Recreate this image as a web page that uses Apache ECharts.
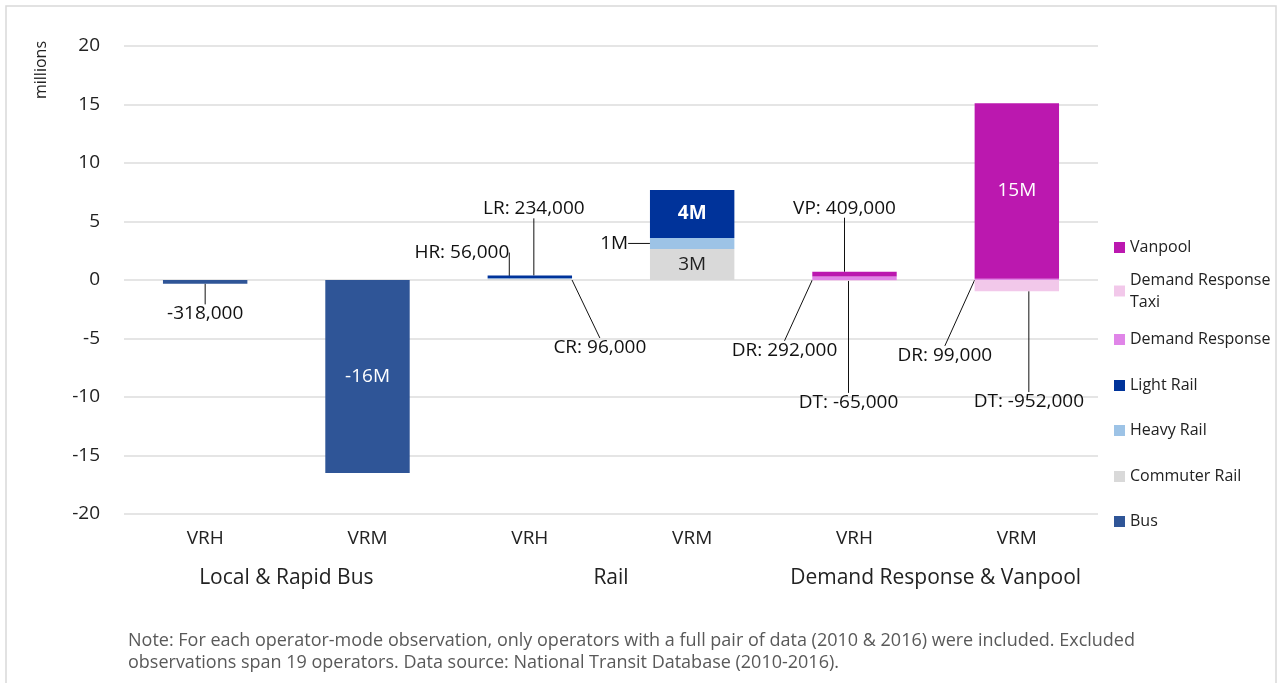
<!DOCTYPE html>
<html>
<head>
<meta charset="utf-8">
<script src="https://cdn.jsdelivr.net/npm/echarts@6/dist/echarts.min.js"></script>
<style>
	html, body { margin: 0; padding: 0; background: #fff; }
	#main { width: 1279px; height: 683px; }
</style>
</head>
<body>
<div id="main"></div>
<script>
	// categories and groups
	var categories = [ 'VRH', 'VRM', 'VRH', 'VRM', 'VRH', 'VRM' ];
	var groups = [ 'Local & Rapid Bus', 'Rail', 'Demand Response & Vanpool' ];

	// series values (millions)
	var bus = [ -0.318, -16.5, null, null, null, null ];
	var commuterRail = [ null, null, 0.096, 2.65, null, null ];
	var heavyRail = [ null, null, 0.056, 0.95, null, null ];
	var lightRail = [ null, null, 0.234, 4.1, null, null ];
	var demandResponse = [ null, null, null, null, 0.292, 0.099 ];
	var demandResponseTaxi = [ null, null, null, null, -0.065, -0.952 ];
	var vanpool = [ null, null, null, null, 0.409, 15.0 ];

	// label texts
	var busLabels = [ '-318,000', '-16M', '', '', '', '' ];
	var commuterRailLabels = [ '', '', 'CR: 96,000', '3M', '', '' ];
	var heavyRailLabels = [ '', '', 'HR: 56,000', '1M', '', '' ];
	var lightRailLabels = [ '', '', 'LR: 234,000', '4M', '', '' ];
	var demandResponseLabels = [ '', '', '', '', 'DR: 292,000', 'DR: 99,000' ];
	var demandResponseTaxiLabels = [ '', '', '', '', 'DT: -65,000', 'DT: -952,000' ];
	var vanpoolLabels = [ '', '', '', '', 'VP: 409,000', '15M' ];

	var noteText = 'Note: For each operator-mode observation, only operators with a full pair of data (2010 & 2016) were included. Excluded\n'
			+ 'observations span 19 operators. Data source: National Transit Database (2010-2016).';

	var FONT = '"Open Sans", "Noto Sans", sans-serif';

	// series definitions (stack order bottom -> top)
	var seriesDefs = [
		{ name : 'Bus', values : bus, labels : busLabels, color : '#2F5597', inside : '#ffffff' },
		{ name : 'Commuter Rail', values : commuterRail, labels : commuterRailLabels, color : '#D9D9D9', inside : '#222222' },
		{ name : 'Heavy Rail', values : heavyRail, labels : heavyRailLabels, color : '#9DC3E6', inside : '#222222' },
		{ name : 'Light Rail', values : lightRail, labels : lightRailLabels, color : '#00339A', inside : '#ffffff', bold : true },
		{ name : 'Demand Response', values : demandResponse, labels : demandResponseLabels, color : '#E085E8', inside : '#222222' },
		{ name : 'Demand Response Taxi', values : demandResponseTaxi, labels : demandResponseTaxiLabels, color : '#F2C8EA', inside : '#222222' },
		{ name : 'Vanpool', values : vanpool, labels : vanpoolLabels, color : '#BB18AF', inside : '#ffffff' }
	];

	// callout offsets from the bar segment centre (null = label stays inside)
	var labelOffsets = {
		'Bus' : [ [ 0, 32 ], null, null, null, null, null ],
		'Commuter Rail' : [ null, null, [ 70, 68 ], null, null, null ],
		'Heavy Rail' : [ null, null, [ -68, -26 ], [ -78, 0 ], null, null ],
		'Light Rail' : [ null, null, [ 4, -68 ], null, null, null ],
		'Demand Response' : [ null, null, null, null, [ -70, 72 ], [ -72, 76 ] ],
		'Demand Response Taxi' : [ null, null, null, null, [ -6, 122 ], [ 12, 116 ] ],
		'Vanpool' : [ null, null, null, null, [ -10, -66 ], null ]
	};

	var legendNames = [ 'Vanpool', 'Demand Response Taxi', 'Demand Response', 'Light Rail', 'Heavy Rail', 'Commuter Rail', 'Bus' ];
	var legendCenters = [ 245, 291, 337, 383, 428, 474, 519 ];

	function buildSeries() {
		var arr = [];
		for ( var s = 0; s < seriesDefs.length; s++) {
			var def = seriesDefs[s];
			var data = [];
			for ( var i = 0; i < def.values.length; i++) {
				var off = labelOffsets[def.name][i];
				var item = {
					value : def.values[i],
					label : {
						formatter : def.labels[i]
					}
				};
				if (off) {
					item.label.color = '#111';
					item.labelLine = { show : true };
				} else {
					item.label.color = def.inside;
					if (def.bold) {
						item.label.fontWeight = 'bold';
					}
				}
				data.push(item);
			}
			arr.push({
				name : def.name,
				type : 'bar',
				stack : 'total',
				barWidth : '52%',
				itemStyle : { color : def.color },
				label : {
					show : true,
					position : 'inside',
					fontFamily : FONT,
					fontSize : 19
				},
				labelLine : {
					lineStyle : { color : '#111', width : 1 }
				},
				labelLayout : (function(name) {
					return function(p) {
						var off = labelOffsets[name][p.dataIndex];
						return off ? { dx : off[0], dy : off[1] } : {};
					};
				})(def.name),
				emphasis : { disabled : true },
				data : data
			});
		}
		return arr;
	}

	function buildLegends() {
		var arr = [];
		for ( var i = 0; i < legendNames.length; i++) {
			var taxi = legendNames[i] === 'Demand Response Taxi';
			arr.push({
				data : [ legendNames[i] ],
				left : 1114,
				top : taxi ? legendCenters[i] - 5.5 - 27.5 : legendCenters[i] - 5.5,
				padding : 0,
				itemWidth : 11,
				itemHeight : 11,
				icon : 'rect',
				selectedMode : false,
				formatter : taxi ? 'Demand Response\nTaxi' : '{name}',
				textStyle : {
					fontFamily : FONT,
					fontSize : 16,
					color : '#222',
					lineHeight : taxi ? 22 : 11,
					padding : taxi ? [ 22, 0, 0, 0 ] : 0
				}
			});
		}
		return arr;
	}

	var myChart = echarts.init(document.getElementById('main'));
	var option = {
		animation : false,
		backgroundColor : '#ffffff',
		grid : {
			left : 124,
			right : 181,
			top : 46,
			bottom : 169
		},
		legend : buildLegends(),
		xAxis : [ {
			type : 'category',
			data : categories,
			position : 'bottom',
			axisLine : { show : false },
			axisTick : { show : false },
			axisLabel : { fontFamily : FONT, fontSize : 19, color : '#222', margin : 15 }
		}, {
			type : 'category',
			data : groups,
			position : 'bottom',
			axisLine : { show : false },
			axisTick : { show : false },
			axisLabel : { fontFamily : FONT, fontSize : 21, color : '#222', margin : 54, interval : 0 }
		} ],
		yAxis : {
			type : 'value',
			min : -20,
			max : 20,
			interval : 5,
			axisLine : { show : false },
			axisTick : { show : false },
			axisLabel : { fontFamily : FONT, fontSize : 19, color : '#222', margin : 24 },
			splitLine : { lineStyle : { color : '#dcdcdc', width : 1.5 } }
		},
		graphic : [ {
			type : 'rect',
			silent : true,
			z : -10,
			shape : { x : 6, y : 6, width : 1270, height : 700 },
			style : { fill : 'none', stroke : '#d9d9d9', lineWidth : 1.5 }
		}, {
			type : 'text',
			x : 41,
			y : 70,
			rotation : Math.PI / 2,
			style : {
				text : 'millions',
				font : '16px ' + FONT,
				fill : '#222',
				textAlign : 'center',
				textVerticalAlign : 'middle'
			}
		}, {
			type : 'text',
			x : 128,
			y : 630,
			style : {
				text : noteText,
				font : '18px ' + FONT,
				fill : '#595959',
				lineHeight : 22
			}
		} ],
		series : buildSeries()
	};
	myChart.setOption(option);
</script>
</body>
</html>
